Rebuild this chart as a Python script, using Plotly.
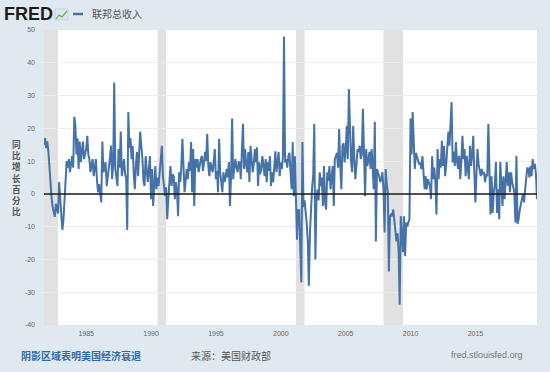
import plotly.graph_objects as go
import pandas as pd

# ---------------- data (YoY % change, monthly, 1981-10 .. 2019-10) ----------------
start_month = "1981-10-01"

vals_1981_1989 = [
    15, 17, 14, 16, 13, 8.5, 2, -1, -4, -6,
    -7, -3, -5, -6, 3.6, -2, -5, -11, -8, -2,
    0.5, 10, 8, 10.6, 6.6, 9, 11.5, 8, 23.5, 21,
    12, 17, 7.6, 16, 9.7, 13, 16, 10.6, 12, 13.7,
    17.7, 12, 10.6, 6.6, 9, 10.6, 5.4, 8, 10.6, 4,
    0.5, 3, 0, -2.6, 16, 6.6, 8, 9.7, 2.4, 5,
    7.6, 11, 14.7, 4.5, 9, 34, 7.6, 5, 2.4, 13.7,
    8, 19, 5.4, 8, 10.6, 6, 4.5, -11, 25, 14,
    17, 10.6, 14.7, 6, 1.4, 9, 12.8, 5.4, 11, 19,
    14.7, 11, 4, 2.4, 11.5, 6, 3.6, 7.6, 11.5,
]

vals_1990_1999 = [
    -1.6, 7.6, -3.7, 3, 8.5, 1.4, 5, 2.4, 7.6, 12.8, 14.7, 5.4,
    3, -0.6, 2, -7.7, -1.6, 4, 8.5, 2.4, 6, 5.4, -1.6, 3.6,
    1, -6.8, 6.6, 3.6, 8, 16.8, 6.6, 0.5, 4, 7.6, 4.5, 9.7,
    7, 15.8, 0.5, 13.7, -3.7, 10.6, 8, 10.6, 6.6, 9, 10.6, 11.6,
    7, 9.7, 12.8, 10, 18.3, 8.5, 5.4, 9.7, 8, 6.6, 10, 13.7,
    4.5, 7, 0.5, 16.8, 6.6, 3, 0.5, 6.6, 3.6, 5, 7.6, 5,
    9.7, -3.7, 5, 23, 4.5, 8, 10.6, 8, 6.6, 9.7, 9.6, 4.5,
    11.5, 21.4, 7.6, 13.7, 9, 6.6, 12.8, 3.6, 14.7, 10.6, 6.6, 9,
    13.7, 9.6, 14.2, 2.4, 9.6, 6, 7.6, 11.5, 8, 5.4, 10.6, 3.6,
    9.6, 7, 11.5, 2.4, 6.6, 3.6, 8, 13, 6.6, 9, 12.8, 5.4,
]

vals_2000_2009 = [
    9.6, 7.6, 11.5, 48, 9.6, 10.6, 8, 11.5, 12.5, 6.6, 1.4, 15.8,
    -0.7, 11.5, -2.6, -14, -5, -5, -16, -27, 15.8, -4, -2, -5,
    -9, -15, -28, -12, -4.5, 2, 5.4, 21.4, -20, -2, 1.4, -2,
    6.6, 2.4, 5, -3.7, 8.5, -2.6, -4.8, 6.6, 4, 8.5, 1.4, 4.5,
    8.5, -3.7, 10.6, 11.5, 12.5, 8, 19.8, 8.5, 1.4, 14.7, 15.5, 9.6,
    13, 20.8, 10.6, 32, 16.8, 10, 6.6, 20.8, 10.6, 4.5, 9, 13.7,
    12.8, 14.7, 10.6, 12, 26, 12.8, -0.7, 13.7, 8.5, 10, 12.8, 7.6,
    13.7, 8, 1.4, 22, -14.5, 7.6, 6.6, 5.4, 3.6, 4.5, 6.6, 1.4,
    -11.8, 7.6, 3, 0.5, -23.7, -6.8, -6.3, -6.8, -4.8, -7.8, -10, -14.5,
    -12, -18, -33.8, -6.8, -12, -17.8, -6.8, -19, -8.7, -10, -8.7, -7.8,
]

vals_2010_2019 = [
    23, 12, 25, 12, 7.6, 12.5, 11.5, 10.6, 9, 9.6, 7.6, 11.5,
    5, 1.4, 5.4, 1.4, 4.5, 3.6, 2.4, -1.6, 11.5, 4.5, 8, 3.6,
    -6.3, 13.7, 4.5, 10.6, 8, 16.2, 8.5, 14.7, 5.4, 9, 12.8, 19,
    14.7, 20, 28, 9.6, 12.8, 8.5, 15.8, 10, 7.6, 11.6, 4.5, 10,
    17.7, 10.6, 13.7, 5.4, 11.6, 8, 4.5, 14.7, 8.5, 12, 17.7, 6.6,
    -2.6, 6.6, 13.7, 9, 7.6, 5.4, 7.6, 6, 6.6, 3.6, 6, 5.4,
    21.4, 2.4, -6.3, 5.4, -5.8, 0.5, 3, 9.7, -5.8, 1.4, -7.7, 9.7,
    2, -3.7, 5.4, -1.6, 4, 9.7, 2.4, 6.6, 0.5, 6.6, 3.6, 2,
    0.5, -8.7, 11.6, -9.2, -7.7, -5, -3.7, -1.6, 0, -2.6, 1.4, 4.5,
    8, 7.6, 5, 8.5, 5.4, 10.6, 7.6, 9.2, 6, -1.6,
]

recession_starts = ["1981-07-01", "1990-07-01", "2001-03-01", "2007-12-01"]
recession_ends = ["1982-11-01", "1991-03-01", "2001-11-01", "2009-06-01"]

x_tick_years = [1985, 1990, 1995, 2000, 2005, 2010, 2015]
y_ticks = [-40, -30, -20, -10, 0, 10, 20, 30, 40, 50]

series_name = "联邦总收入"
y_title = "同比增长百分比"
note_text = "阴影区域表明美国经济衰退"
source_text = "来源：美国财政部"
site_text = "fred.stlouisfed.org"

# ---------------- build ----------------
values = vals_1981_1989 + vals_1990_1999 + vals_2000_2009 + vals_2010_2019
dates = pd.date_range(start_month, periods=len(values), freq="MS")

W, H = 550, 372
L, R, T, B = 44, 13, 30, 47
PW, PH = W - L - R, H - T - B


def px(x):
    return (x - L) / PW


def py(y):
    return (H - B - y) / PH


CJK = "Noto Sans CJK SC"
LAT = "Liberation Sans, Arial, sans-serif"

fig = go.Figure()
fig.add_trace(go.Scatter(
    x=dates, y=values, mode="lines",
    line=dict(color="#4572a7", width=2),
    name=series_name, showlegend=False, hoverinfo="skip",
))

shapes = []
for s, e in zip(recession_starts, recession_ends):
    shapes.append(dict(type="rect", xref="x", yref="paper", x0=s, x1=e, y0=0, y1=1,
                       fillcolor="#e1e1e1", line=dict(width=0), layer="below"))
# zero line
shapes.append(dict(type="line", xref="paper", yref="y", x0=0, x1=1, y0=0, y1=0,
                   line=dict(color="#1a1a1a", width=1.5), layer="above"))
# legend swatch
shapes.append(dict(type="line", xref="paper", yref="paper", x0=px(73), x1=px(83), y0=py(14), y1=py(14),
                   line=dict(color="#4572a7", width=2.5)))
# small FRED graph icon
shapes.append(dict(type="rect", xref="paper", yref="paper", x0=px(55), x1=px(68), y0=py(20), y1=py(9),
                   fillcolor="#dfe6ee", line=dict(color="#b9c6d4", width=0.6)))
shapes.append(dict(type="path", xref="paper", yref="paper",
                   path=f"M {px(56)} {py(19)} L {px(59)} {py(15)} L {px(62)} {py(17)} L {px(67)} {py(11)}",
                   line=dict(color="#6aa84f", width=1.2)))

annotations = [
    dict(text="<b>FRED</b>", x=px(2), y=py(14), xref="paper", yref="paper", xanchor="left", yanchor="middle",
         showarrow=False, font=dict(family=LAT, size=18, color="#1d1d1d")),
    dict(text=series_name, x=px(90), y=py(14), xref="paper", yref="paper", xanchor="left", yanchor="middle",
         showarrow=False, font=dict(family=CJK, size=10, color="#555555")),
    dict(text="<b>" + note_text + "</b>", x=px(19), y=py(356), xref="paper", yref="paper", xanchor="left",
         yanchor="middle", showarrow=False, font=dict(family=CJK, size=10, color="#2a6db5")),
    dict(text=source_text, x=px(189), y=py(356), xref="paper", yref="paper", xanchor="left",
         yanchor="middle", showarrow=False, font=dict(family=CJK, size=10, color="#555555")),
    dict(text=site_text, x=px(449), y=py(355), xref="paper", yref="paper", xanchor="left",
         yanchor="middle", showarrow=False, font=dict(family=LAT, size=9, color="#777777")),
    # vertical axis title: one character per line
    dict(text="<b>" + "<br>".join(list(y_title)) + "</b>", x=px(16.7), y=py(177.5),
         xref="paper", yref="paper", xanchor="center", yanchor="middle", showarrow=False,
         align="center", font=dict(family=CJK, size=8.6, color="#555555")),
]

fig.update_layout(
    width=W, height=H,
    margin=dict(l=L, r=R, t=T, b=B, pad=0),
    paper_bgcolor="#e1e9f0",
    plot_bgcolor="#ffffff",
    showlegend=False,
    hovermode=False,
    shapes=shapes,
    annotations=annotations,
    xaxis=dict(
        type="date",
        range=[dates[0], dates[-1]],
        tickvals=[pd.Timestamp(f"{y}-01-01") for y in x_tick_years],
        ticktext=[str(y) for y in x_tick_years],
        tickfont=dict(family=LAT, size=7, color="#666666"),
        showgrid=False, zeroline=False, showline=False, ticks="",
        ticklabelstandoff=3,
    ),
    yaxis=dict(
        range=[-40, 50],
        tickvals=y_ticks,
        ticktext=[str(v) for v in y_ticks],
        tickfont=dict(family=LAT, size=7, color="#666666"),
        showgrid=True, gridcolor="#ececec", gridwidth=1,
        zeroline=False, showline=False, ticks="",
        ticklabelstandoff=8,
    ),
)

fig.write_html(
    "out.html",
    config={"displayModeBar": False, "staticPlot": True},
    post_script="document.body.style.margin='0';document.body.style.padding='0';"
                "document.body.style.overflow='hidden';",
)
